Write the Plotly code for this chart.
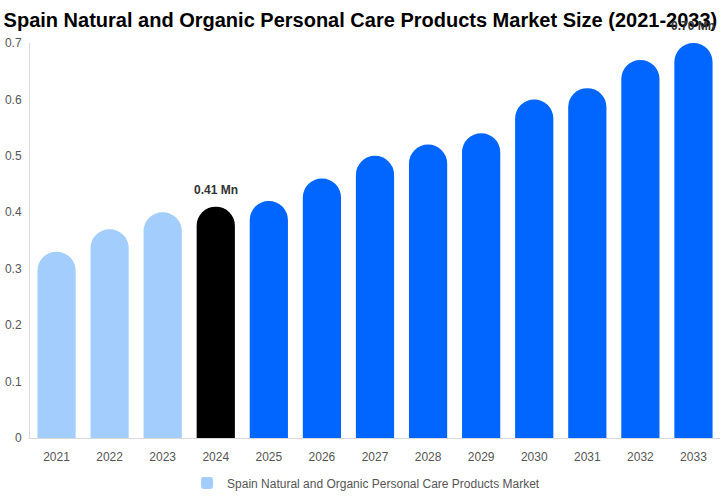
import plotly.graph_objects as go

# Market size values (USD Mn)
years = ["2021", "2022", "2023", "2024", "2025", "2026", "2027",
         "2028", "2029", "2030", "2031", "2032", "2033"]
values = [0.33, 0.37, 0.40, 0.41, 0.42, 0.46, 0.50,
          0.52, 0.54, 0.60, 0.62, 0.67, 0.70]
labelled_years = ["2024", "2033"]

# historic = light blue, base year = black, forecast = blue
colors = []
for y in years:
  if int(y) < 2024:
    colors.append("#a3cdfd")
  elif y == "2024":
    colors.append("#000000")
  else:
    colors.append("#0066ff")

fig = go.Figure()
fig.add_trace(go.Bar(
  x=years, y=values,
  name="Spain Natural and Organic Personal Care Products Market",
  marker=dict(color=colors, cornerradius=19, line=dict(width=0)),
  hoverinfo="x+y",
))

# value labels only on base year and last forecast year
# (category index used as x so numeric-looking names are not misread)
for i, (y, v) in enumerate(zip(years, values)):
  if y in labelled_years:
    fig.add_annotation(x=i, y=v, xref="x", yref="y", text="<b>%.2f Mn</b>" % v,
                       showarrow=False, yshift=17,
                       font=dict(size=12, color="#333333"))

fig.update_layout(
  width=720, height=500,
  plot_bgcolor="white", paper_bgcolor="white",
  font=dict(family="Liberation Sans, Arial, sans-serif", color="#555555", size=12),
  title=dict(text="<b>Spain Natural and Organic Personal Care Products Market Size (2021-2033)</b>",
             x=0.005, xanchor="left", y=0.96, yanchor="middle",
             font=dict(size=20, color="#000000")),
  margin=dict(l=30, r=0, t=43, b=62),
  bargap=0.28,
  showlegend=True,
  legend=dict(orientation="h", x=0.487, xanchor="center", y=-0.114, yanchor="middle",
              font=dict(size=12, color="#555555")),
)
fig.update_xaxes(type="category", range=[-0.5, len(years) - 0.5], showgrid=False,
                 showline=True, linecolor="#d9d9d9", linewidth=1, ticks="",
                 ticklabelstandoff=8, tickfont=dict(size=12, color="#555555"))
fig.update_yaxes(range=[0, 0.7], dtick=0.1, showgrid=False, showline=True,
                 linecolor="#d9d9d9", linewidth=1, zeroline=False,
                 ticklabelstandoff=5, tickfont=dict(size=12, color="#555555"))

# drop the browser's default body margin so the chart sits at the page corner
fig.write_html("out.html", config={"displayModeBar": False},
               post_script="document.body.style.margin='0';")
